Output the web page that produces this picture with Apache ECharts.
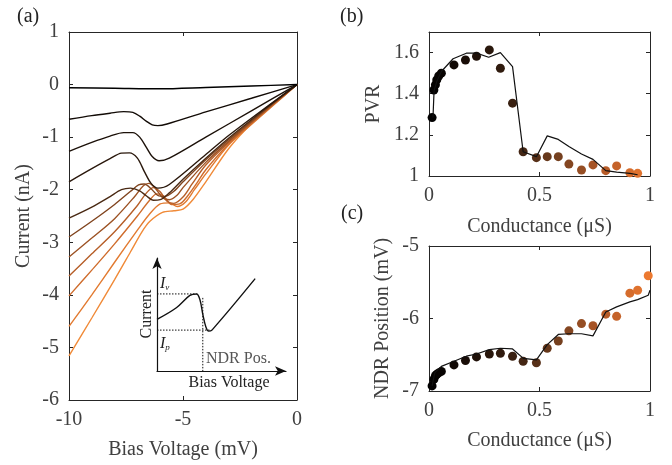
<!DOCTYPE html>
<html lang="en">
<head>
<meta charset="UTF-8">
<title>NDR</title>
<script src="https://cdn.jsdelivr.net/npm/echarts@6/dist/echarts.min.js"></script>
<style>
  body, html { padding: 0; margin: 0; background: #fff; }
</style>
</head>
<body>
<div id="chart" style="width:672px;height:465px;"></div>
<script>
// (a) I-V curves, [bias mV, current nA], black -> orange
var c1 = [[-10,-0.06],[-8,-0.07],[-6,-0.08],[-4,-0.055],[-2,-0.028],[0,0]];
var c2 = [[-10,-0.66],[-9,-0.59],[-8.2,-0.545],[-7.6,-0.515],[-7.2,-0.53],[-6.9,-0.6],[-6.6,-0.7],[-6.35,-0.765],[-6.1,-0.78],[-5.7,-0.75],[-4,-0.52],[-2,-0.26],[0,0]];
var c3 = [[-10,-1.27],[-9,-1.1],[-8.2,-0.98],[-7.6,-0.915],[-7.2,-0.915],[-6.9,-1.0],[-6.6,-1.2],[-6.35,-1.37],[-6.05,-1.45],[-5.6,-1.4],[-4,-1.0],[-2,-0.5],[0,0]];
var c4 = [[-10,-1.85],[-9,-1.6],[-8.2,-1.41],[-7.7,-1.305],[-7.35,-1.3],[-7.0,-1.4],[-6.7,-1.65],[-6.4,-1.88],[-6.1,-1.97],[-5.6,-1.9],[-4,-1.33],[-3,-0.97],[-2,-0.64],[0,0]];
var c5 = [[-10,-2.54],[-9,-2.33],[-8.2,-2.13],[-7.7,-2.0],[-7.3,-1.97],[-6.9,-2.02],[-6.6,-2.12],[-6.3,-2.2],[-6.0,-2.19],[-5.6,-2.06],[-5,-1.8],[-4,-1.4],[-3,-1.02],[-2,-0.67],[-1,-0.33],[0,0]];
var c6 = [[-10,-2.9],[-9,-2.6],[-8,-2.28],[-7.3,-2.03],[-6.95,-1.91],[-6.7,-1.89],[-6.4,-1.98],[-6.1,-2.11],[-5.8,-2.13],[-5.4,-2.03],[-5,-1.85],[-4,-1.43],[-3,-1.05],[-2,-0.69],[-1,-0.34],[0,0]];
var c7 = [[-10,-3.28],[-9,-2.92],[-8,-2.55],[-7.1,-2.12],[-6.75,-1.93],[-6.5,-1.88],[-6.2,-1.98],[-5.9,-2.15],[-5.6,-2.19],[-5.25,-2.1],[-5,-1.96],[-4,-1.48],[-3,-1.08],[-2,-0.71],[-1,-0.35],[0,0]];
var c8 = [[-10,-3.64],[-9,-3.22],[-8,-2.8],[-7,-2.3],[-6.6,-2.06],[-6.3,-1.96],[-6.0,-2.04],[-5.7,-2.22],[-5.4,-2.26],[-5.0,-2.14],[-4.6,-1.89],[-4,-1.53],[-3,-1.1],[-2,-0.72],[-1,-0.36],[0,0]];
var c9 = [[-10,-4.02],[-9,-3.53],[-8,-3.03],[-7,-2.5],[-6.5,-2.22],[-6.15,-2.08],[-5.85,-2.12],[-5.5,-2.28],[-5.15,-2.27],[-4.8,-2.12],[-4.4,-1.88],[-4,-1.62],[-3,-1.13],[-2,-0.74],[-1,-0.37],[0,0]];
var c10 = [[-10,-4.6],[-9,-4.0],[-8,-3.38],[-7,-2.77],[-6.5,-2.48],[-6,-2.27],[-5.6,-2.25],[-5.25,-2.32],[-4.9,-2.24],[-4.5,-2.0],[-4,-1.7],[-3,-1.15],[-2,-0.76],[-1,-0.38],[0,0]];
var c11 = [[-10,-5.16],[-9,-4.44],[-8,-3.71],[-7.3,-3.18],[-6.8,-2.8],[-6.45,-2.6],[-5.9,-2.43],[-5.4,-2.4],[-5.0,-2.37],[-4.55,-2.18],[-4,-1.85],[-3,-1.22],[-2,-0.74],[-1,-0.34],[0,0]];
var ivCurves = [c1, c2, c3, c4, c5, c6, c7, c8, c9, c10, c11];
var curveColors = ['#000000', '#120b06', '#1c1109', '#2a180c', '#4a2a14', '#80441e', '#9c5224', '#b65e28', '#cf6c2c', '#e27a30', '#f08a38'];

// inset schematic (normalised)
var sketchCurve = [[0,0.457],[0.15,0.56],[0.255,0.669],[0.307,0.682],[0.333,0.63],[0.356,0.496],[0.379,0.389],[0.40,0.353],[0.426,0.362],[0.761,0.817]];
var sketchValley = [[0,0.682],[0.307,0.682]];
var sketchPeak = [[0,0.362],[0.42,0.362]];
var sketchPos = [[0.355,0.647],[0.355,0]];

// (b), (c) vs conductance
var conductance = [0.014,0.022,0.029,0.035,0.044,0.056,0.113,0.165,0.215,0.273,0.323,0.378,0.426,0.486,0.535,0.585,0.633,0.690,0.742,0.800,0.849,0.909,0.944,0.992];
var pvr = [1.284,1.418,1.443,1.467,1.486,1.50,1.54,1.564,1.582,1.613,1.524,1.354,1.118,1.089,1.094,1.094,1.058,1.029,1.054,1.026,1.049,1.016,1.013,'-'];
var ndrPos = [-6.93,-6.84,-6.79,-6.77,-6.75,-6.73,-6.64,-6.58,-6.53,-6.49,-6.48,-6.52,-6.59,-6.61,-6.41,-6.31,-6.17,-6.07,-6.10,-5.94,-5.97,-5.65,-5.61,-5.41];
var pvrModel = [[0.018,1.284],[0.023,1.415],[0.035,1.459],[0.048,1.49],[0.056,1.508],[0.109,1.57],[0.169,1.597],[0.215,1.597],[0.27,1.577],[0.323,1.6],[0.378,1.532],[0.426,1.118],[0.486,1.094],[0.535,1.195],[0.585,1.178],[0.633,1.143],[0.69,1.107],[0.742,1.081],[0.80,1.026],[0.849,1.019],[0.909,1.013],[0.944,1.006]];
var ndrModel = [[0.014,-6.93],[0.026,-6.75],[0.056,-6.66],[0.113,-6.59],[0.169,-6.52],[0.215,-6.49],[0.273,-6.43],[0.323,-6.41],[0.378,-6.42],[0.427,-6.55],[0.486,-6.57],[0.535,-6.36],[0.585,-6.22],[0.633,-6.21],[0.69,-6.21],[0.742,-6.24],[0.80,-5.91],[0.849,-5.84],[0.909,-5.77],[0.944,-5.74],[0.992,-5.68],[1.0,-5.61]];

var FONT = '"Liberation Serif", "DejaVu Serif", serif';
var TXT = '#404040';
var AX = '#262626';
var FS = 20;

function mainAxis(grid, pos, min, max, interval, name, nameGap) {
    return {
        type: 'value', gridIndex: grid, position: pos, min: min, max: max, interval: interval,
        name: name, nameLocation: 'middle', nameGap: nameGap,
        nameTextStyle: { fontFamily: FONT, fontSize: FS, color: TXT },
        axisLine: { show: true, onZero: false, lineStyle: { color: AX, width: 1 } },
        axisTick: { show: true, inside: true, length: 4, lineStyle: { color: AX } },
        axisLabel: { fontFamily: FONT, fontSize: FS, color: TXT, margin: 10, showMaxLabel: max === 1.7 ? false : null },
        splitLine: { show: false }
    };
}
function mirrorAxis(grid, pos, min, max, interval) {
    return {
        type: 'value', gridIndex: grid, position: pos, min: min, max: max, interval: interval,
        axisLine: { show: true, onZero: false, lineStyle: { color: AX, width: 1 } },
        axisTick: { show: true, inside: true, length: 4, lineStyle: { color: AX } },
        axisLabel: { show: false }, splitLine: { show: false }
    };
}

var series = [];
ivCurves.forEach(function (c, i) {
    series.push({
        type: 'line', xAxisIndex: 0, yAxisIndex: 0, data: c, smooth: 0.3,
        showSymbol: false, lineStyle: { color: curveColors[i], width: 1.4 }, z: 20 - i
    });
});
// inset
series.push({ type: 'line', xAxisIndex: 6, yAxisIndex: 6, data: sketchCurve, smooth: 0.35, showSymbol: false, lineStyle: { color: '#111', width: 1.4 } });
[sketchValley, sketchPeak, sketchPos].forEach(function (d) {
    series.push({ type: 'line', xAxisIndex: 6, yAxisIndex: 6, data: d, showSymbol: false, lineStyle: { color: '#111', width: 1, type: [1.5, 1.5] } });
});
// (b)
series.push({ type: 'line', xAxisIndex: 2, yAxisIndex: 2, data: pvrModel, showSymbol: false, lineStyle: { color: '#111', width: 1.2 }, z: 5 });
series.push({ type: 'scatter', xAxisIndex: 2, yAxisIndex: 2, symbolSize: 9, itemStyle: { opacity: 1 },
    data: conductance.map(function (g, i) { return [g, pvr[i]]; }), z: 4 });
// (c)
series.push({ type: 'line', xAxisIndex: 4, yAxisIndex: 4, data: ndrModel, showSymbol: false, lineStyle: { color: '#111', width: 1.2 }, z: 5 });
series.push({ type: 'scatter', xAxisIndex: 4, yAxisIndex: 4, symbolSize: 9, itemStyle: { opacity: 1 },
    data: conductance.map(function (g, i) { return [g, ndrPos[i]]; }), z: 4 });

var n = ivCurves.length;
var chart = echarts.init(document.getElementById('chart'));
chart.setOption({
    animation: false,
    backgroundColor: '#fff',
    grid: [
        { left: 69, top: 32, width: 228, height: 370 },
        { left: 429, top: 32, width: 221, height: 144 },
        { left: 429, top: 246, width: 221, height: 145 },
        { left: 157, top: 258, width: 129, height: 113 }
    ],
    xAxis: [
        mainAxis(0, 'bottom', -10, 0, 5, 'Bias Voltage (mV)', 40),
        mirrorAxis(0, 'top', -10, 0, 5),
        mainAxis(1, 'bottom', 0, 1, 0.5, 'Conductance (\u03bcS)', 41),
        mirrorAxis(1, 'top', 0, 1, 0.5),
        mainAxis(2, 'bottom', 0, 1, 0.5, 'Conductance (\u03bcS)', 40),
        mirrorAxis(2, 'top', 0, 1, 0.5),
        { type: 'value', gridIndex: 3, min: 0, max: 1, axisLine: { show: true, onZero: false, symbol: ['none', 'arrow'], symbolSize: [7, 11], lineStyle: { color: '#111', width: 1.2 } },
          axisTick: { show: false }, axisLabel: { show: false }, splitLine: { show: false } }
    ],
    yAxis: [
        mainAxis(0, 'left', -6, 1, 1, 'Current (nA)', 35),
        mirrorAxis(0, 'right', -6, 1, 1),
        mainAxis(1, 'left', 1, 1.7, 0.2, 'PVR', 45),
        mirrorAxis(1, 'right', 1, 1.7, 0.2),
        mainAxis(2, 'left', -7, -5, 1, 'NDR Position (mV)', 36),
        mirrorAxis(2, 'right', -7, -5, 1),
        { type: 'value', gridIndex: 3, min: 0, max: 1, axisLine: { show: true, onZero: false, symbol: ['none', 'arrow'], symbolSize: [7, 11], lineStyle: { color: '#111', width: 1.2 } },
          axisTick: { show: false }, axisLabel: { show: false }, splitLine: { show: false } }
    ],
    visualMap: {
        show: false, type: 'continuous', dimension: 0, min: 0, max: 1,
        seriesIndex: [n + 5, n + 7],
        inRange: { color: ['#000000', '#1e1008', '#3c2212', '#7a4220', '#b85c28', '#ee7a30'] }
    },
    graphic: [
        { type: 'text', left: 17, top: 7, style: { text: '(a)', font: '20px ' + FONT, fill: '#222' } },
        { type: 'text', left: 340, top: 7, style: { text: '(b)', font: '20px ' + FONT, fill: '#222' } },
        { type: 'text', left: 341, top: 204, style: { text: '(c)', font: '20px ' + FONT, fill: '#222' } },
        { type: 'text', x: 147, y: 314, rotation: Math.PI / 2, style: { text: 'Current', font: '16px ' + FONT, fill: '#222', align: 'center', verticalAlign: 'middle' } },
        { type: 'text', x: 229, y: 383, style: { text: 'Bias Voltage', font: '16px ' + FONT, fill: '#222', align: 'center', verticalAlign: 'middle' } },
        { type: 'text', x: 206, y: 359, style: { text: 'NDR Pos.', font: '16px ' + FONT, fill: '#555', verticalAlign: 'middle' } },
        { type: 'text', x: 160, y: 284, style: { rich: { i: { font: 'italic 16px ' + FONT, fill: '#222' }, s: { font: 'italic 9px ' + FONT, fill: '#222', padding: [8, 0, 0, 0] } }, text: '{i|I}{s|v}', verticalAlign: 'middle' } },
        { type: 'text', x: 160, y: 344, style: { rich: { i: { font: 'italic 16px ' + FONT, fill: '#222' }, s: { font: 'italic 9px ' + FONT, fill: '#222', padding: [8, 0, 0, 0] } }, text: '{i|I}{s|p}', verticalAlign: 'middle' } }
    ],
    series: series
});
</script>
</body>
</html>
